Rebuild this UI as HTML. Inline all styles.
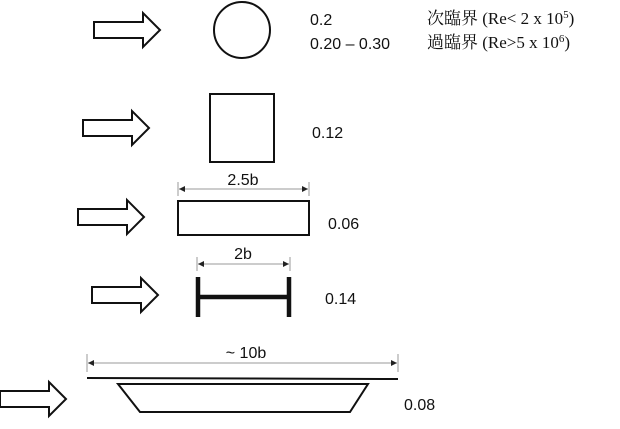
<!DOCTYPE html>
<html><head><meta charset="utf-8"><style>
body{margin:0;background:#fff;width:620px;height:424px;overflow:hidden}
text{font-family:"Liberation Sans","DejaVu Sans",sans-serif;font-size:16px;fill:#111}
.s{font-family:"Liberation Serif","Noto Serif CJK SC",serif;font-size:17px}
</style></head><body>
<svg width="620" height="424" xmlns="http://www.w3.org/2000/svg">
<defs>
<g id="ar"><path d="M0,-8 H49 V-17 L66,0 L49,17 V8 H0 Z" fill="#fff" stroke="#111" stroke-width="2"/></g>
<marker id="m" markerWidth="6" markerHeight="6" refX="6" refY="3" orient="auto-start-reverse"><path d="M0,0 L6,3 L0,6Z" fill="#222"/></marker>
</defs>
<use href="#ar" x="94" y="30"/>
<use href="#ar" x="83" y="128"/>
<use href="#ar" x="78" y="217"/>
<use href="#ar" x="92" y="295"/>
<use href="#ar" x="0" y="399"/>
<circle cx="242" cy="30" r="28" fill="none" stroke="#111" stroke-width="2"/>
<text x="310" y="25">0.2</text>
<text x="310" y="49">0.20 – 0.30</text>
<text x="427" y="24" class="s">次臨界 (Re&lt; 2 x 10<tspan font-size="11" dy="-6">5</tspan><tspan dy="6">)</tspan></text>
<text x="427" y="48" class="s">過臨界 (Re&gt;5 x 10<tspan font-size="11" dy="-6">6</tspan><tspan dy="6">)</tspan></text>
<rect x="210" y="94" width="64" height="68" fill="none" stroke="#111" stroke-width="2"/>
<text x="312" y="138">0.12</text>
<line x1="178" y1="182" x2="178" y2="196" stroke="#999"/><line x1="309" y1="182" x2="309" y2="196" stroke="#999"/>
<line x1="179" y1="189" x2="308" y2="189" stroke="#999" marker-start="url(#m)" marker-end="url(#m)"/>
<text x="243" y="185" text-anchor="middle">2.5b</text>
<rect x="178" y="201" width="131" height="34" fill="none" stroke="#111" stroke-width="2"/>
<text x="328" y="229">0.06</text>
<line x1="197" y1="257" x2="197" y2="271" stroke="#999"/><line x1="290" y1="257" x2="290" y2="271" stroke="#999"/>
<line x1="198" y1="264" x2="289" y2="264" stroke="#999" marker-start="url(#m)" marker-end="url(#m)"/>
<text x="243" y="259" text-anchor="middle">2b</text>
<line x1="198" y1="277" x2="198" y2="317" stroke="#111" stroke-width="4.5"/>
<line x1="289" y1="277" x2="289" y2="317" stroke="#111" stroke-width="4.5"/>
<line x1="198" y1="297" x2="289" y2="297" stroke="#111" stroke-width="4.5"/>
<text x="325" y="304">0.14</text>
<line x1="87" y1="354" x2="87" y2="372" stroke="#999"/><line x1="398" y1="354" x2="398" y2="372" stroke="#999"/>
<line x1="88" y1="363" x2="397" y2="363" stroke="#999" marker-start="url(#m)" marker-end="url(#m)"/>
<text x="246" y="358" text-anchor="middle">~ 10b</text>
<line x1="87" y1="378" x2="398" y2="379" stroke="#111" stroke-width="2"/>
<path d="M118,384 H368 L350,412 H140 Z" fill="none" stroke="#111" stroke-width="2"/>
<text x="404" y="410">0.08</text>
</svg>
</body></html>
